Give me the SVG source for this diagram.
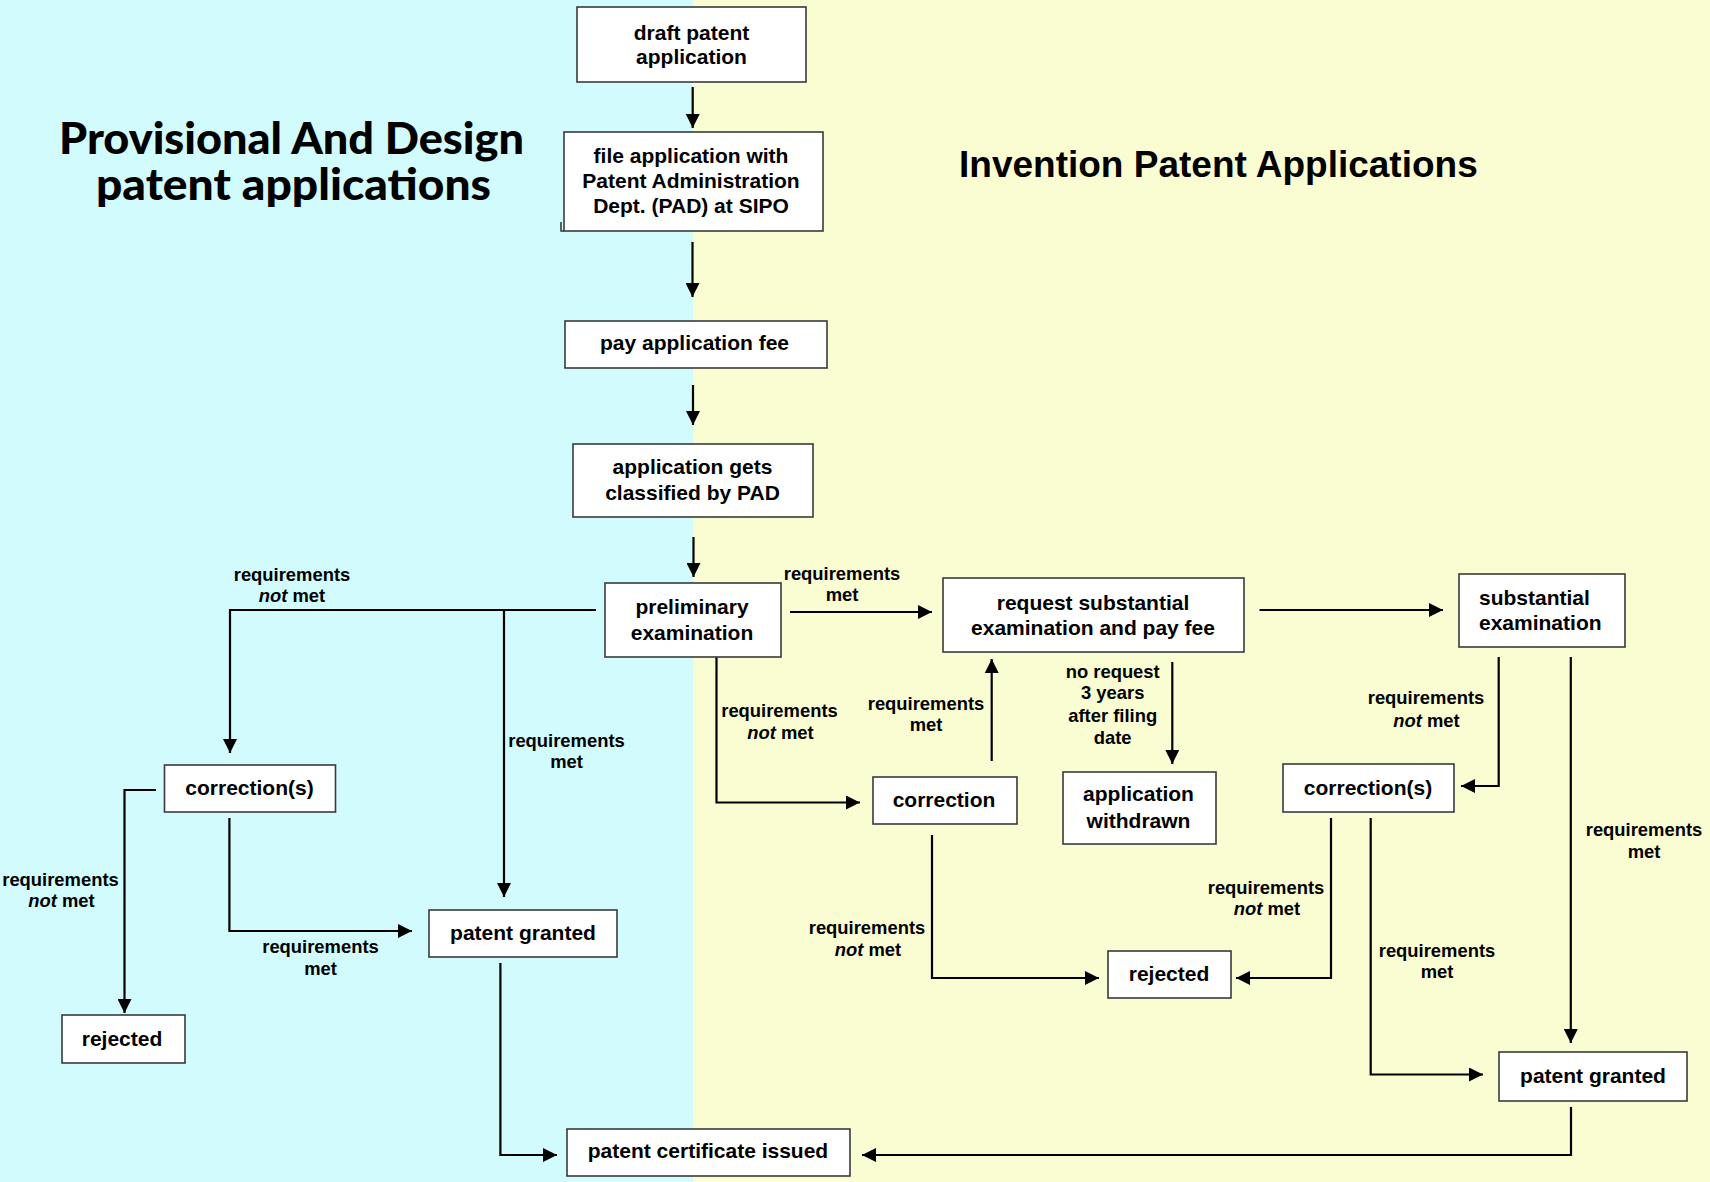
<svg xmlns="http://www.w3.org/2000/svg" width="1710" height="1182" viewBox="0 0 1710 1182">
  <style>
    .box { fill: #ffffff; stroke: #3a3a3a; stroke-width: 1.6; }
    .bt { font-family: "Liberation Sans", Arial, sans-serif; font-weight: bold; font-size: 21px; fill: #000; text-anchor: middle; }
    .bt.start { text-anchor: start; }
    .lb { font-family: "Liberation Sans", Arial, sans-serif; font-weight: bold; font-size: 18.4px; fill: #000; text-anchor: middle; }
    .it { font-style: italic; }
    .wire { fill: none; stroke: #000; stroke-width: 2.2; }
    .arr { marker-end: url(#head); }
    .title { font-family: "Liberation Sans", Arial, sans-serif; font-weight: bold; fill: #000; }
    .ltitle { font-family: Lato, "Liberation Sans", sans-serif; font-weight: 900; font-size: 43px; fill: #000; text-anchor: middle; }
  </style>
  <defs>
    <marker id="head" markerUnits="userSpaceOnUse" markerWidth="14" markerHeight="14" refX="14" refY="7" orient="auto">
      <path d="M0,0 L14,7 L0,14 z" fill="#000"/>
    </marker>
  </defs>

  <!-- two lanes -->
  <rect x="0" y="0" width="693" height="1182" fill="#d1fbfd"/>
  <rect x="693" y="0" width="1017" height="1182" fill="#fafdd1"/>

  <!-- lane titles -->
  <g id="title-left">
    <text class="ltitle" x="291.5" y="154" textLength="465" lengthAdjust="spacingAndGlyphs">Provisional And Design</text>
    <text class="ltitle" x="293.5" y="200" textLength="395" lengthAdjust="spacingAndGlyphs">patent applications</text>
  </g>
  <g id="title-right">
    <text class="title" x="959" y="177" font-size="37">Invention Patent Applications</text>
  </g>

  <!-- connectors -->
  <g id="connectors">
    <path class="wire arr" d="M692.7,87 V128"/>
    <path class="wire arr" d="M692.5,242 V297"/>
    <path class="wire arr" d="M693,385 V425"/>
    <path class="wire arr" d="M693.5,537 V577"/>
    <path class="wire arr" d="M596,610 H230 V753"/>
    <path class="wire arr" d="M504,610 V897"/>
    <path class="wire arr" d="M790,612 H932"/>
    <path class="wire arr" d="M716.5,657 V802.5 H860"/>
    <path class="wire arr" d="M991.7,761 V659"/>
    <path class="wire arr" d="M1172.3,662 V764"/>
    <path class="wire arr" d="M1259.5,610 H1443"/>
    <path class="wire arr" d="M1498.7,657 V786 H1461"/>
    <path class="wire arr" d="M1570.8,657 V1043"/>
    <path class="wire arr" d="M1331,818 V978 H1236"/>
    <path class="wire arr" d="M1370.7,818 V1074.5 H1483"/>
    <path class="wire arr" d="M932,835 V978 H1099"/>
    <path class="wire arr" d="M1571,1107 V1155 H862"/>
    <path class="wire arr" d="M500.4,963 V1155 H557"/>
    <path class="wire arr" d="M156,790 H124.5 V1013"/>
    <path class="wire arr" d="M229.4,818 V931 H412"/>
  </g>

  <!-- connector labels -->
  <g id="labels">
    <text class="lb" x="292" y="580.5">requirements</text>
    <text class="lb" x="292" y="602"><tspan class="it">not</tspan> met</text>

    <text class="lb" x="566.5" y="746.5">requirements</text>
    <text class="lb" x="566.5" y="768">met</text>

    <text class="lb" x="842" y="579.5">requirements</text>
    <text class="lb" x="842" y="601">met</text>

    <text class="lb" x="779.5" y="717">requirements</text>
    <text class="lb" x="780.5" y="738.5"><tspan class="it">not</tspan> met</text>

    <text class="lb" x="926" y="709.5">requirements</text>
    <text class="lb" x="926" y="731">met</text>

    <text class="lb" x="1112.7" y="677.5">no request</text>
    <text class="lb" x="1112.7" y="699">3 years</text>
    <text class="lb" x="1112.7" y="721.5">after filing</text>
    <text class="lb" x="1112.7" y="744">date</text>

    <text class="lb" x="1426" y="704">requirements</text>
    <text class="lb" x="1426.5" y="726.5"><tspan class="it">not</tspan> met</text>

    <text class="lb" x="1644" y="836">requirements</text>
    <text class="lb" x="1644" y="857.5">met</text>

    <text class="lb" x="1266" y="893.5">requirements</text>
    <text class="lb" x="1267" y="915"><tspan class="it">not</tspan> met</text>

    <text class="lb" x="1437" y="957">requirements</text>
    <text class="lb" x="1437" y="978">met</text>

    <text class="lb" x="867" y="934">requirements</text>
    <text class="lb" x="868" y="955.5"><tspan class="it">not</tspan> met</text>

    <text class="lb" x="60.5" y="886">requirements</text>
    <text class="lb" x="61.5" y="907"><tspan class="it">not</tspan> met</text>

    <text class="lb" x="320.5" y="953">requirements</text>
    <text class="lb" x="320.5" y="975">met</text>
  </g>

  <!-- process steps -->
  <g id="draft">
    <rect class="box" x="577" y="7" width="229" height="75"/>
    <text class="bt" x="691.5" y="39.5">draft patent</text>
    <text class="bt" x="691.5" y="63.5">application</text>
  </g>
  <g id="file">
    <rect class="box" x="564" y="132" width="259" height="99"/>
    <path d="M561,222 V231 H564" fill="none" stroke="#3a3a3a" stroke-width="1.6"/>
    <text class="bt" x="691" y="163">file application with</text>
    <text class="bt" x="691" y="188">Patent Administration</text>
    <text class="bt" x="691" y="213">Dept. (PAD) at SIPO</text>
  </g>
  <g id="pay-fee">
    <rect class="box" x="565" y="321" width="262" height="47"/>
    <text class="bt" x="694.5" y="350">pay application fee</text>
  </g>
  <g id="classified">
    <rect class="box" x="573" y="444" width="240" height="73"/>
    <text class="bt" x="692.5" y="474">application gets</text>
    <text class="bt" x="692.5" y="500">classified by PAD</text>
  </g>
  <g id="preliminary">
    <rect class="box" x="605" y="583" width="176" height="74"/>
    <text class="bt" x="692" y="613.5">preliminary</text>
    <text class="bt" x="692" y="639.5">examination</text>
  </g>
  <g id="request-substantial">
    <rect class="box" x="943" y="578" width="301" height="74"/>
    <text class="bt" x="1093" y="609.5">request substantial</text>
    <text class="bt" x="1093" y="635">examination and pay fee</text>
  </g>
  <g id="substantial">
    <rect class="box" x="1459" y="574" width="166" height="73"/>
    <text class="bt start" x="1479" y="605">substantial</text>
    <text class="bt start" x="1479" y="630">examination</text>
  </g>
  <g id="correction-mid">
    <rect class="box" x="873" y="777" width="144" height="47"/>
    <text class="bt" x="944" y="807">correction</text>
  </g>
  <g id="withdrawn">
    <rect class="box" x="1063" y="772" width="153" height="72"/>
    <text class="bt" x="1138.5" y="800.5">application</text>
    <text class="bt" x="1138.5" y="828">withdrawn</text>
  </g>
  <g id="corrections-right">
    <rect class="box" x="1283" y="764" width="171" height="48"/>
    <text class="bt" x="1368" y="795">correction(s)</text>
  </g>
  <g id="corrections-left">
    <rect class="box" x="164.5" y="765" width="171" height="47"/>
    <text class="bt" x="249.5" y="795">correction(s)</text>
  </g>
  <g id="rejected-left">
    <rect class="box" x="62" y="1015" width="123" height="48"/>
    <text class="bt" x="122" y="1046">rejected</text>
  </g>
  <g id="granted-left">
    <rect class="box" x="429" y="910" width="188" height="47"/>
    <text class="bt" x="523" y="940">patent granted</text>
  </g>
  <g id="rejected-mid">
    <rect class="box" x="1108" y="951" width="123" height="47"/>
    <text class="bt" x="1169" y="981">rejected</text>
  </g>
  <g id="granted-right">
    <rect class="box" x="1499" y="1052" width="188" height="49"/>
    <text class="bt" x="1593" y="1083">patent granted</text>
  </g>
  <g id="certificate">
    <rect class="box" x="567" y="1129" width="283" height="47"/>
    <text class="bt" x="708" y="1158">patent certificate issued</text>
  </g>
</svg>
